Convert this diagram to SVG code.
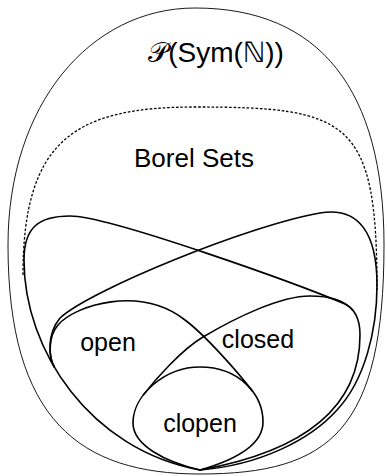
<svg xmlns="http://www.w3.org/2000/svg" width="387" height="476" viewBox="0 0 387 476">
<style>
.thin{fill:none;stroke:#000;stroke-width:0.9}
.thick{fill:none;stroke:#000;stroke-width:1.6;stroke-linejoin:round;stroke-linecap:round}
.dot{fill:none;stroke:#000;stroke-width:1.3;stroke-dasharray:2.6 1.8}
.lbl{font-family:"Liberation Sans","DejaVu Sans",Arial,sans-serif;fill:#000;text-anchor:middle}
</style>
<rect width="387" height="476" fill="#fff"/>
<g id="powerset">
<path class="thin" d="M195,8 C320,8 384,90 384,245 C384,430 330,474 200,474 C80,474 8,420 8,245 C8,105 90,8 195,8 Z"/>
<text class="lbl" x="216" y="62" font-size="28">𝒫(Sym(ℕ))</text>
</g>
<g id="borel">
<path class="dot" d="M23,275 C23,140 75,107 195,107 C350,107 377,120 377,290"/>
<text class="lbl" x="194" y="167" font-size="26">Borel Sets</text>
</g>
<g id="connectors">
<g id="setL">
<path class="thick" d="M200,470 C90,450 24,350 24,260 C24,228 38,216 70,216 C110,216 300,285 345,304 C355,309 360,320 360,335 C360,410 300,452 200,470"/>
</g>
<g id="setR">
<path class="thick" d="M54.3,367 C49.3,358.4 46,335 60,318 C90,290 250,225 320,213 C360,206 377,235 377,285 C377,330 365,380 337,410 C310,440 260,465 200,470"/>
</g>
</g>
<g id="open">
<path class="thick" d="M54.3,367 C49.3,358.4 47,338 58,325 C75,305 140,285 185,320 C205,335 237,371 252.3,391"/>
<text class="lbl" x="108" y="351" font-size="25">open</text>
</g>
<g id="closed">
<path class="thick" d="M352.6,310 C345,301 330,296 310,296 C280,296 235,318 203,337 C181.5,349.8 155.7,379 143.5,394.8"/>
<text class="lbl" x="258" y="348" font-size="25">closed</text>
</g>
<g id="clopen">
<path class="thick" d="M200,470 C165,462 133,445 133,423 C133,395 165,367 200,367 C240,367 263,395 263,422 C263,445 235,460 200,470 Z"/>
<text class="lbl" x="200" y="432" font-size="25">clopen</text>
</g>
</svg>
